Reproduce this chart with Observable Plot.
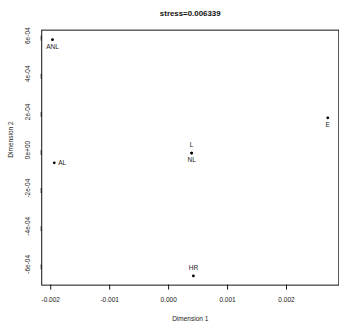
<!DOCTYPE html>
<html>
<head>
<meta charset="utf-8">
<script src="https://cdn.jsdelivr.net/npm/d3@7"></script>
<script src="https://cdn.jsdelivr.net/npm/@observablehq/plot@0.6"></script>
<style>
  html, body { margin: 0; padding: 0; background: #fff; overflow: hidden; width: 339px; height: 332px; }
  #chart svg { display: block; }
</style>
</head>
<body>
<div id="chart"></div>
<script>
const names = ["ANL", "AL", "L", "NL", "HR", "E"];
const dim1 = [-0.00197, -0.00194, 0.00039, 0.00039, 0.00042, 0.00270];
const dim2 = [0.000579, -0.000067, -0.000016, -0.000016, -0.000661, 0.000169];
const labelSide = ["below", "right", "above", "below", "above", "below"];
const xTicks = [-0.002, -0.001, 0, 0.001, 0.002];
const xTickLabels = ["-0.002", "-0.001", "0.000", "0.001", "0.002"];
const yTicks = [0.0006, 0.0004, 0.0002, 0, -0.0002, -0.0004, -0.0006];
const yTickLabels = ["6e-04", "4e-04", "2e-04", "0e+00", "-2e-04", "-4e-04", "-6e-04"];
const titleText = "stress=0.006339";
const xLabel = "Dimension 1";
const yLabel = "Dimension 2";

const pts = names.map((n, i) => ({name: n, x: dim1[i], y: dim2[i], side: labelSide[i]}));
const font = "'Liberation Sans', Arial, Helvetica, sans-serif";

const chart = Plot.plot({
  width: 343,
  height: 332,
  marginLeft: 41.7,
  marginRight: 0.7,
  marginTop: 30,
  marginBottom: 44,
  style: {fontFamily: font, fontSize: "6.6px", color: "#222", background: "#fff"},
  x: {domain: [-0.002153, 0.002887]},
  y: {domain: [-0.000709, 0.000629]},
  marks: [
    Plot.frame({stroke: "#111", strokeWidth: 1}),
    Plot.axisX({
      ticks: xTicks, tickFormat: d => xTickLabels[xTicks.indexOf(d)],
      tickSize: 5, tickPadding: 7, label: null, fontSize: 6.6, stroke: "#111", fill: "#222"
    }),
    Plot.axisY({
      ticks: yTicks, tickFormat: d => yTickLabels[yTicks.indexOf(d)],
      tickSize: 5, tickPadding: 7, label: null, fontSize: 6.6, rotate: -90,
      textAnchor: "middle", lineAnchor: "bottom", stroke: "#111", fill: "#222"
    }),
    Plot.dot(pts, {x: "x", y: "y", r: 1.4, fill: "#000", stroke: null}),
    Plot.text(pts.filter(d => d.side === "below"), {x: "x", y: "y", text: "name", dy: 7, fontSize: 6.6, fill: "#222"}),
    Plot.text(pts.filter(d => d.side === "above"), {x: "x", y: "y", text: "name", dy: -8, fontSize: 6.6, fill: "#222"}),
    Plot.text(pts.filter(d => d.side === "right"), {x: "x", y: "y", text: "name", dx: 4, textAnchor: "start", fontSize: 6.6, fill: "#222"}),
    Plot.text([titleText], {frameAnchor: "top", dy: -20, text: d => d, fontSize: 8, fontWeight: "bold", fill: "#111"}),
    Plot.text([xLabel], {frameAnchor: "bottom", dy: 36, text: d => d, fontSize: 6.6, fill: "#222"}),
    Plot.text([yLabel], {frameAnchor: "left", dx: -31, rotate: -90, text: d => d, fontSize: 6.6, fill: "#222"})
  ]
});
document.getElementById("chart").appendChild(chart);
</script>
</body>
</html>
